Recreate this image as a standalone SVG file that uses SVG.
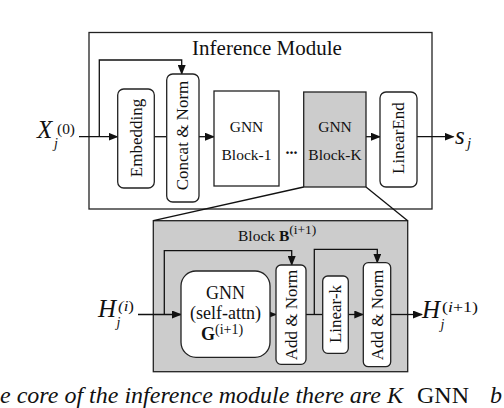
<svg xmlns="http://www.w3.org/2000/svg" width="504" height="408" viewBox="0 0 504 408">
<style>
.box{fill:#fff;stroke:#222;stroke-width:1.3}
.gray{fill:#cccccc;stroke:#222;stroke-width:1.3}
.ln{fill:none;stroke:#111;stroke-width:1.3}
text{font-family:'Liberation Serif','DejaVu Serif','Times New Roman',serif;fill:#111}
.r{font-size:17px}
.m{font-style:italic}
</style>
<defs>
<marker id="ah" markerWidth="10" markerHeight="8" refX="9" refY="4" orient="auto" markerUnits="userSpaceOnUse"><path d="M0,0 L10,4 L0,8 z" fill="#111"/></marker>
</defs>
<rect width="504" height="408" fill="#fff"/>

<g id="inference-module">
<rect class="box" x="89" y="32.5" width="343" height="176.5"/>
<text x="267" y="55" font-family="Liberation Serif, serif" font-size="21" text-anchor="middle">Inference Module</text>
</g>

<g id="block-detail">
<rect class="gray" x="153.3" y="220.7" width="254.4" height="151"/>
<text x="238" y="240.7" font-family="Liberation Serif, serif" font-size="15.5">Block <tspan font-weight="bold">B</tspan><tspan font-size="13.5" dy="-7">(i+1)</tspan></text>
</g>

<g id="connectors">
<path class="ln" d="M303.7,187 L153.3,220.7"/>
<path class="ln" d="M366,187 L407.7,220.7"/>
<path class="ln" d="M79,136.7 L117.5,136.7" marker-end="url(#ah)"/>
<path class="ln" d="M99.3,136.7 L99.3,60 L181.7,60 L181.7,74" marker-end="url(#ah)"/>
<path class="ln" d="M154.3,136.7 L166.7,136.7"/>
<path class="ln" d="M199,136.7 L214,136.7" marker-end="url(#ah)"/>
<path class="ln" d="M366,136.7 L380,136.7" marker-end="url(#ah)"/>
<path class="ln" d="M417,136.7 L453.5,136.7" marker-end="url(#ah)"/>
<path class="ln" d="M138,314.5 L181,314.5" marker-end="url(#ah)"/>
<path class="ln" d="M164.3,314.5 L164.3,250.7 L291.7,250.7 L291.7,265" marker-end="url(#ah)"/>
<path class="ln" d="M270,314.5 L276,314.5" marker-end="url(#ah)"/>
<path class="ln" d="M306,314.5 L322.7,314.5"/>
<path class="ln" d="M314.3,314.5 L314.3,249.3 L377.3,249.3 L377.3,262.7" marker-end="url(#ah)"/>
<path class="ln" d="M348.3,314.5 L363.3,314.5" marker-end="url(#ah)"/>
<path class="ln" d="M390.7,314.5 L422,314.5" marker-end="url(#ah)"/>
</g>

<g id="embedding">
<rect class="box" x="117.7" y="89" width="36.6" height="99" rx="6"/>
<text class="r" font-family="Liberation Serif, serif" transform="translate(136,138) rotate(-90)" x="0" y="5.5" text-anchor="middle">Embedding</text>
</g>
<g id="concat-norm">
<rect class="box" x="166.7" y="74" width="32.3" height="128" rx="6"/>
<text class="r" font-family="Liberation Serif, serif" transform="translate(182.5,135.5) rotate(-90)" x="0" y="5.5" text-anchor="middle">Concat &amp; Norm</text>
</g>
<g id="gnn-block-1">
<rect class="box" x="214" y="91" width="65" height="95"/>
<text x="246.5" y="131.7" font-family="Liberation Serif, serif" font-size="15.5" text-anchor="middle" fill="#333">GNN</text>
<text x="246.5" y="160" font-family="Liberation Serif, serif" font-size="15.5" text-anchor="middle">Block-1</text>
</g>
<g id="ellipsis">
<text x="291.5" y="154" font-family="Liberation Serif, serif" font-size="16" font-weight="bold" text-anchor="middle">...</text>
</g>
<g id="gnn-block-k">
<rect class="gray" x="303.7" y="92" width="62.3" height="95"/>
<text x="335" y="131.7" font-family="Liberation Serif, serif" font-size="15.5" text-anchor="middle" fill="#333">GNN</text>
<text x="335" y="160" font-family="Liberation Serif, serif" font-size="15.5" text-anchor="middle">Block-K</text>
</g>
<g id="linear-end">
<rect class="box" x="380" y="92" width="37" height="95" rx="6"/>
<text class="r" font-family="Liberation Serif, serif" transform="translate(398.5,138) rotate(-90)" x="0" y="5.5" text-anchor="middle">LinearEnd</text>
</g>

<g id="gnn-self-attn">
<rect class="box" x="181" y="271" width="89" height="86.3" rx="15"/>
<text x="225.5" y="299.3" font-family="Liberation Serif, serif" font-size="18" text-anchor="middle">GNN</text>
<text x="225.5" y="318.5" font-family="Liberation Serif, serif" font-size="18" text-anchor="middle">(self-attn)</text>
<text x="201" y="339.5" font-family="Liberation Serif, serif" font-size="18"><tspan font-weight="bold">G</tspan><tspan font-size="14" dy="-6">(i+1)</tspan></text>
</g>
<g id="add-norm-1">
<rect class="box" x="276" y="265" width="30" height="99.3" rx="5"/>
<text class="r" font-family="Liberation Serif, serif" transform="translate(291,315) rotate(-90)" x="0" y="5.5" text-anchor="middle">Add &amp; Norm</text>
</g>
<g id="linear-k">
<rect class="box" x="322.7" y="276" width="25.6" height="77.3" rx="5"/>
<text class="r" font-family="Liberation Serif, serif" transform="translate(335.5,314) rotate(-90)" x="0" y="5.5" text-anchor="middle">Linear-k</text>
</g>
<g id="add-norm-2">
<rect class="box" x="363.3" y="262.7" width="27.4" height="104" rx="5"/>
<text class="r" font-family="Liberation Serif, serif" transform="translate(377,315) rotate(-90)" x="0" y="5.5" text-anchor="middle">Add &amp; Norm</text>
</g>

<g id="labels" font-family="Liberation Serif, serif">
<text class="m" x="37" y="137.5" font-size="25">X</text>
<text x="57" y="134" font-size="15" textLength="18" lengthAdjust="spacingAndGlyphs">(0)</text>
<text class="m" x="54" y="148" font-size="14">j</text>
<text class="m" x="455" y="144" font-size="25">s</text>
<text class="m" x="467" y="148" font-size="15">j</text>
<text class="m" x="98" y="316.7" font-size="25">H</text>
<text x="118" y="310.5" font-size="14" textLength="16" lengthAdjust="spacingAndGlyphs"><tspan font-style="italic">(i</tspan>)</text>
<text class="m" x="116.5" y="327" font-size="14">j</text>
<text class="m" x="422" y="318.3" font-size="25">H</text>
<text x="442" y="311.5" font-size="15" textLength="36" lengthAdjust="spacingAndGlyphs">(<tspan font-style="italic">i</tspan>+1)</text>
<text class="m" x="440.5" y="328.5" font-size="14">j</text>
</g>

<g id="caption">
<text class="m" x="0" y="402.5" font-family="Liberation Serif, serif" font-size="24">e core of the inference module there are K<tspan x="417" font-style="normal">GNN</tspan><tspan x="490">b</tspan></text>
</g>
</svg>
